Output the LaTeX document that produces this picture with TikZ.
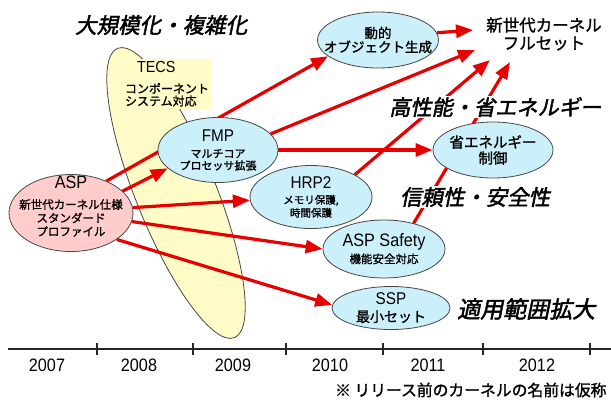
\documentclass[tikz,border=0pt]{standalone}
\usepackage{fontspec}
\setmainfont{Noto Sans CJK JP}
\newfontfamily\latinfont{Liberation Sans}[FakeStretch=0.9]
\newfontfamily\titlefont{Noto Sans CJK JP}[FakeSlant=0.2,FakeBold=2]
\newfontfamily\jpbold{Noto Sans CJK JP}[FakeBold=1.3]
\usetikzlibrary{shapes.geometric,arrows.meta}
\definecolor{arrowred}{RGB}{232,0,0}
\definecolor{paleblue}{RGB}{204,240,250}
\definecolor{palepink}{RGB}{255,204,204}
\definecolor{paleyellow}{RGB}{255,252,200}
\definecolor{rim}{RGB}{70,70,70}
\pgfdeclarelayer{back}
\pgfdeclarelayer{mid}
\pgfsetlayers{back,mid,main}
\tikzset{
  release/.style={ellipse, draw=rim, line width=0.8pt, fill=paleblue, inner sep=-15pt, align=center},
  evolve/.style={draw=arrowred, line width=3.2pt, -{Triangle[length=17pt,width=13pt]}},
  theme/.style={fill=white, inner sep=1pt, anchor=west},
  year/.style={font=\latinfont\fontsize{18}{18}\selectfont},
}
\begin{document}
\begin{tikzpicture}[x=1pt,y=-1pt]
    \useasboundingbox (0,0) rectangle (611,400);
    \begin{pgfonlayer}{back}
        \fill[white] (0,0) rectangle (611,400);
        \node[ellipse, draw=rim, line width=0.8pt, fill=paleyellow, minimum width=312pt, minimum height=80pt, rotate=-68] (tecsarea) at (176,193) {};
    \end{pgfonlayer}
    \node[fill=paleyellow, align=left, inner sep=2pt, font=\jpbold\fontsize{12}{12.5}\selectfont] (tecs) at (167,84) {\hspace*{12pt}{\latinfont\fontsize{16}{16}\selectfont TECS}\\[8pt]コンポーネント\\システム対応};
    \node[release, fill=palepink, minimum width=124pt, minimum height=77pt, font=\jpbold\fontsize{11.5}{13.5}\selectfont] (asp) at (71,213) {{\latinfont\fontsize{18}{18}\selectfont ASP}\\[6.5pt]新世代カーネル仕様\\スタンダード\\プロファイル\\\phantom{プ}};
    \node[release, minimum width=120pt, minimum height=65pt, font=\jpbold\fontsize{11}{12}\selectfont] (fmp) at (218,150) {{\latinfont\fontsize{17}{17}\selectfont FMP}\\[4.5pt]マルチコア\\プロセッサ拡張};
    \node[release, minimum width=122pt, minimum height=63pt, font=\jpbold\fontsize{10.5}{13}\selectfont] (hrp) at (311,197) {{\latinfont\fontsize{17}{17}\selectfont HRP2}\\[2.5pt]メモリ保護,\\時間保護};
    \node[release, minimum width=122pt, minimum height=58pt, font=\jpbold\fontsize{11.5}{13}\selectfont] (safety) at (384,249) {{\latinfont\fontsize{18}{18}\selectfont ASP Safety}\\[2pt]機能安全対応};
    \node[release, minimum width=118pt, minimum height=43pt, font=\jpbold\fontsize{14}{15}\selectfont] (ssp) at (391,308) {{\latinfont\fontsize{17}{17}\selectfont SSP}\\[2pt]最小セット};
    \node[release, minimum width=121pt, minimum height=56pt, font=\jpbold\fontsize{13.5}{14}\selectfont] (dyn) at (378,40) {動的\\オブジェクト生成};
    \node[release, minimum width=120pt, minimum height=56pt, font=\jpbold\fontsize{14.5}{16}\selectfont] (eco) at (493,150) {省エネルギー\\制御};
    \node[align=center, font=\jpbold\fontsize{16.5}{18}\selectfont] (full) at (544,34) {新世代カーネル\\フルセット};
    \coordinate (fulla) at (473,30);
    \coordinate (fullb) at (475,50);
    \coordinate (fullc) at (490,60);
    \coordinate (fulld) at (510,62);
    \node[theme, font=\titlefont\fontsize{21.5}{21.5}\selectfont] (scale) at (74,25) {大規模化・複雑化};
    \node[theme, font=\titlefont\fontsize{21.2}{21.2}\selectfont] (perf) at (388,107) {高性能・省エネルギー};
    \node[theme, font=\titlefont\fontsize{21.4}{21.4}\selectfont] (rel) at (399,197) {信頼性・安全性};
    \node[theme, font=\titlefont\fontsize{23}{23}\selectfont] (app) at (456,309) {適用範囲拡大};
    \begin{pgfonlayer}{mid}
        \draw[evolve] (asp.42) -- (dyn.198);
        \draw[evolve] (asp.23) -- (fmp.200);
        \draw[evolve] (asp.5) -- (hrp.183);
        \draw[evolve] (asp.-8) -- (safety.west);
        \draw[evolve] (asp.-30) -- (ssp.177);
        \draw[evolve] (dyn.7) -- (fulla);
        \draw[evolve] (fmp.17) -- (fullb);
        \draw[evolve] (fmp.east) -- (eco.west);
        \draw[evolve] (hrp.27) -- (fullc);
        \draw[evolve] (safety.41) -- (fulld);
    \end{pgfonlayer}
    \draw[line width=1.2pt, black!85] (8,349) -- (611,349);
    \foreach \x in {97,193,286,383,483,590}
        \draw[line width=1.2pt, black!85] (\x,343) -- (\x,355);
    \foreach \yr/\x in {2007/47,2008/139,2009/233,2010/330,2011/428,2012/537}
        \node[year] (y\yr) at (\x,365) {\yr};
    \node[anchor=east, font=\jpbold\fontsize{15.8}{16}\selectfont] (note) at (610,390) {※ リリース前のカーネルの名前は仮称};
\end{tikzpicture}
\end{document}
